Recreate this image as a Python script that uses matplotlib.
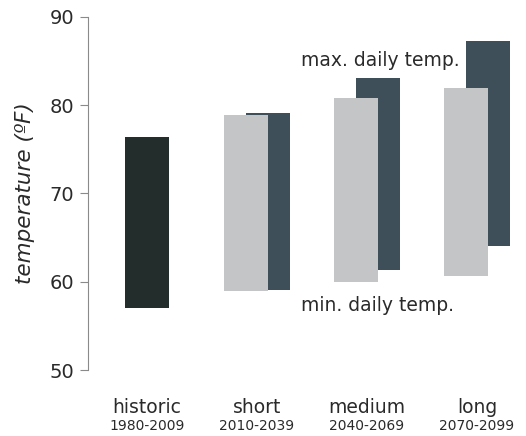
import matplotlib
matplotlib.use("Agg")
import matplotlib.pyplot as plt
import numpy as np

periods = ["historic", "short", "medium", "long"]
years = ["1980-2009", "2010-2039", "2040-2069", "2070-2099"]
# historic range (single bar)
hist_low, hist_high = 57.0, 76.4
# future: min-temp series (light) and max-temp series (dark)
min_low = [58.9, 60.0, 60.7]
min_high = [78.9, 80.8, 82.0]
max_low = [59.1, 61.3, 64.1]
max_high = [79.1, 83.1, 87.3]

plt.rcParams['font.family'] = ['DejaVu Sans']

fig = plt.figure(figsize=(5.26, 4.36), dpi=100)
ax = fig.add_axes([88/526, 1-370/436, 1-88/526, (370-17)/436])

w = 0.4
ax.bar(0, hist_high - hist_low, bottom=hist_low, width=w, color="#232d2b", zorder=2)
xf = np.arange(1, 4)
ax.bar(xf + 0.1, np.array(max_high) - np.array(max_low), bottom=max_low, width=w,
       color="#3e4f5a", zorder=2)
ax.bar(xf - 0.1, np.array(min_high) - np.array(min_low), bottom=min_low, width=w,
       color="#c3c5c7", zorder=3)

ax.set_xlim(-0.536, 3.445)
ax.set_ylim(50, 90)
ax.set_yticks([50, 60, 70, 80, 90])
for s in ["top", "right", "bottom"]:
    ax.spines[s].set_visible(False)
ax.spines["left"].set_color("#8a8a8a")
ax.tick_params(axis="y", direction="out", length=6, color="#8a8a8a", labelsize=14,
               labelcolor="#2a2a2a", pad=4)
ax.set_xticks([])
ax.set_ylabel("temperature (ºF)", fontsize=15.5, style="italic", color="#2a2a2a", labelpad=10)

trans = ax.get_xaxis_transform()
for i, (p, y) in enumerate(zip(periods, years)):
    ax.text(i, -0.105, p, transform=trans, ha="center", va="center", fontsize=13.5, color="#2a2a2a")
    ax.text(i, -0.16, y, transform=trans, ha="center", va="center", fontsize=10, color="#2a2a2a")

ax.text(1.4, 85.1, "max. daily temp.", fontsize=13.5, color="#2a2a2a", ha="left", va="center")
ax.text(1.4, 57.3, "min. daily temp.", fontsize=13.5, color="#2a2a2a", ha="left", va="center")

fig.savefig("out.png", dpi=100)
